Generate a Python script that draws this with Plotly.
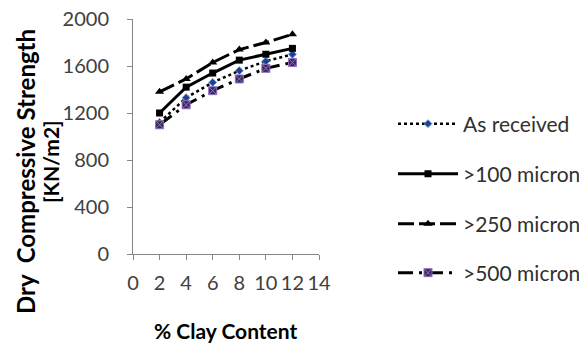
import plotly.graph_objects as go

clay = [2, 4, 6, 8, 10, 12]
as_received = [1120, 1330, 1460, 1560, 1640, 1700]
m100 = [1200, 1420, 1540, 1650, 1700, 1750]
m250 = [1380, 1490, 1630, 1740, 1800, 1870]
m500 = [1100, 1270, 1390, 1490, 1580, 1630]

x_ticks = [0, 2, 4, 6, 8, 10, 12, 14]
y_ticks = [0, 400, 800, 1200, 1600, 2000]

FONT = "Lato"
L, R, T, B = 133, 260, 19, 91
PW, PH = 579 - L - R, 345 - T - B


def px(xp):
    return (xp - L) / PW


def py(yp):
    return (345 - B - yp) / PH


fig = go.Figure()
fig.add_trace(go.Scatter(x=clay, y=as_received, name="As received", legend="legend",
                         mode="lines+markers",
                         line=dict(color="black", width=2.5, dash="dot"),
                         marker=dict(symbol="diamond", size=6, color="#1f3f8f",
                                     line=dict(color="#5b8fd0", width=1))))
fig.add_trace(go.Scatter(x=clay, y=m100, name=">100 micron", legend="legend2",
                         mode="lines+markers",
                         line=dict(color="black", width=3),
                         marker=dict(symbol="square", size=7, color="black")))
fig.add_trace(go.Scatter(x=clay, y=m250, name=">250 micron", legend="legend3",
                         mode="lines+markers",
                         line=dict(color="black", width=3, dash="16px,5px"),
                         marker=dict(symbol="triangle-up", size=8, color="black")))
fig.add_trace(go.Scatter(x=clay, y=m500, name=">500 micron", legend="legend4",
                         mode="lines+markers",
                         line=dict(color="black", width=3, dash="longdashdot"),
                         marker=dict(symbol="square-x", size=8, color="#3a2a5a",
                                     line=dict(color="#9070c0", width=1))))

axis_common = dict(showgrid=False, zeroline=False, showline=True, linecolor="#868686",
                   linewidth=1, ticks="outside", ticklen=5, tickcolor="#868686",
                   automargin=False,
                   tickfont=dict(family=FONT, size=20, color="#404040"))
fig.update_xaxes(range=[0, 14], tickvals=x_ticks, ticklabelstandoff=6, **axis_common)
fig.update_yaxes(range=[0, 2000], tickvals=y_ticks, ticklabelstandoff=14, **axis_common)


def leg(ypix):
    return dict(x=px(393), y=py(ypix), xanchor="left", yanchor="middle", itemwidth=60,
                font=dict(family=FONT, size=21, color="#303030"),
                bgcolor="rgba(0,0,0,0)")


fig.update_layout(
    width=579, height=345,
    margin=dict(l=L, r=R, t=T, b=B, autoexpand=False),
    plot_bgcolor="white", paper_bgcolor="white",
    showlegend=True,
    legend=leg(124), legend2=leg(174), legend3=leg(224), legend4=leg(273),
    annotations=[
        dict(text="<b>% Clay Content</b>", xref="paper", yref="paper", x=px(226), y=py(330),
             xanchor="center", yanchor="middle", showarrow=False,
             font=dict(family=FONT, size=21, color="black")),
        dict(text="<b>Dry  Compressive Strength</b>", xref="paper", yref="paper",
             x=px(25), y=py(171), xanchor="center", yanchor="middle", showarrow=False,
             textangle=-90, font=dict(family=FONT, size=24, color="black")),
        dict(text="<b>[KN/m2]</b>", xref="paper", yref="paper",
             x=px(50), y=py(162), xanchor="center", yanchor="middle", showarrow=False,
             textangle=-90, font=dict(family=FONT, size=21, color="black")),
    ],
)

fig.write_html("out.html", config={"displayModeBar": False},
               post_script="document.body.style.margin='0';document.body.style.padding='0';")
